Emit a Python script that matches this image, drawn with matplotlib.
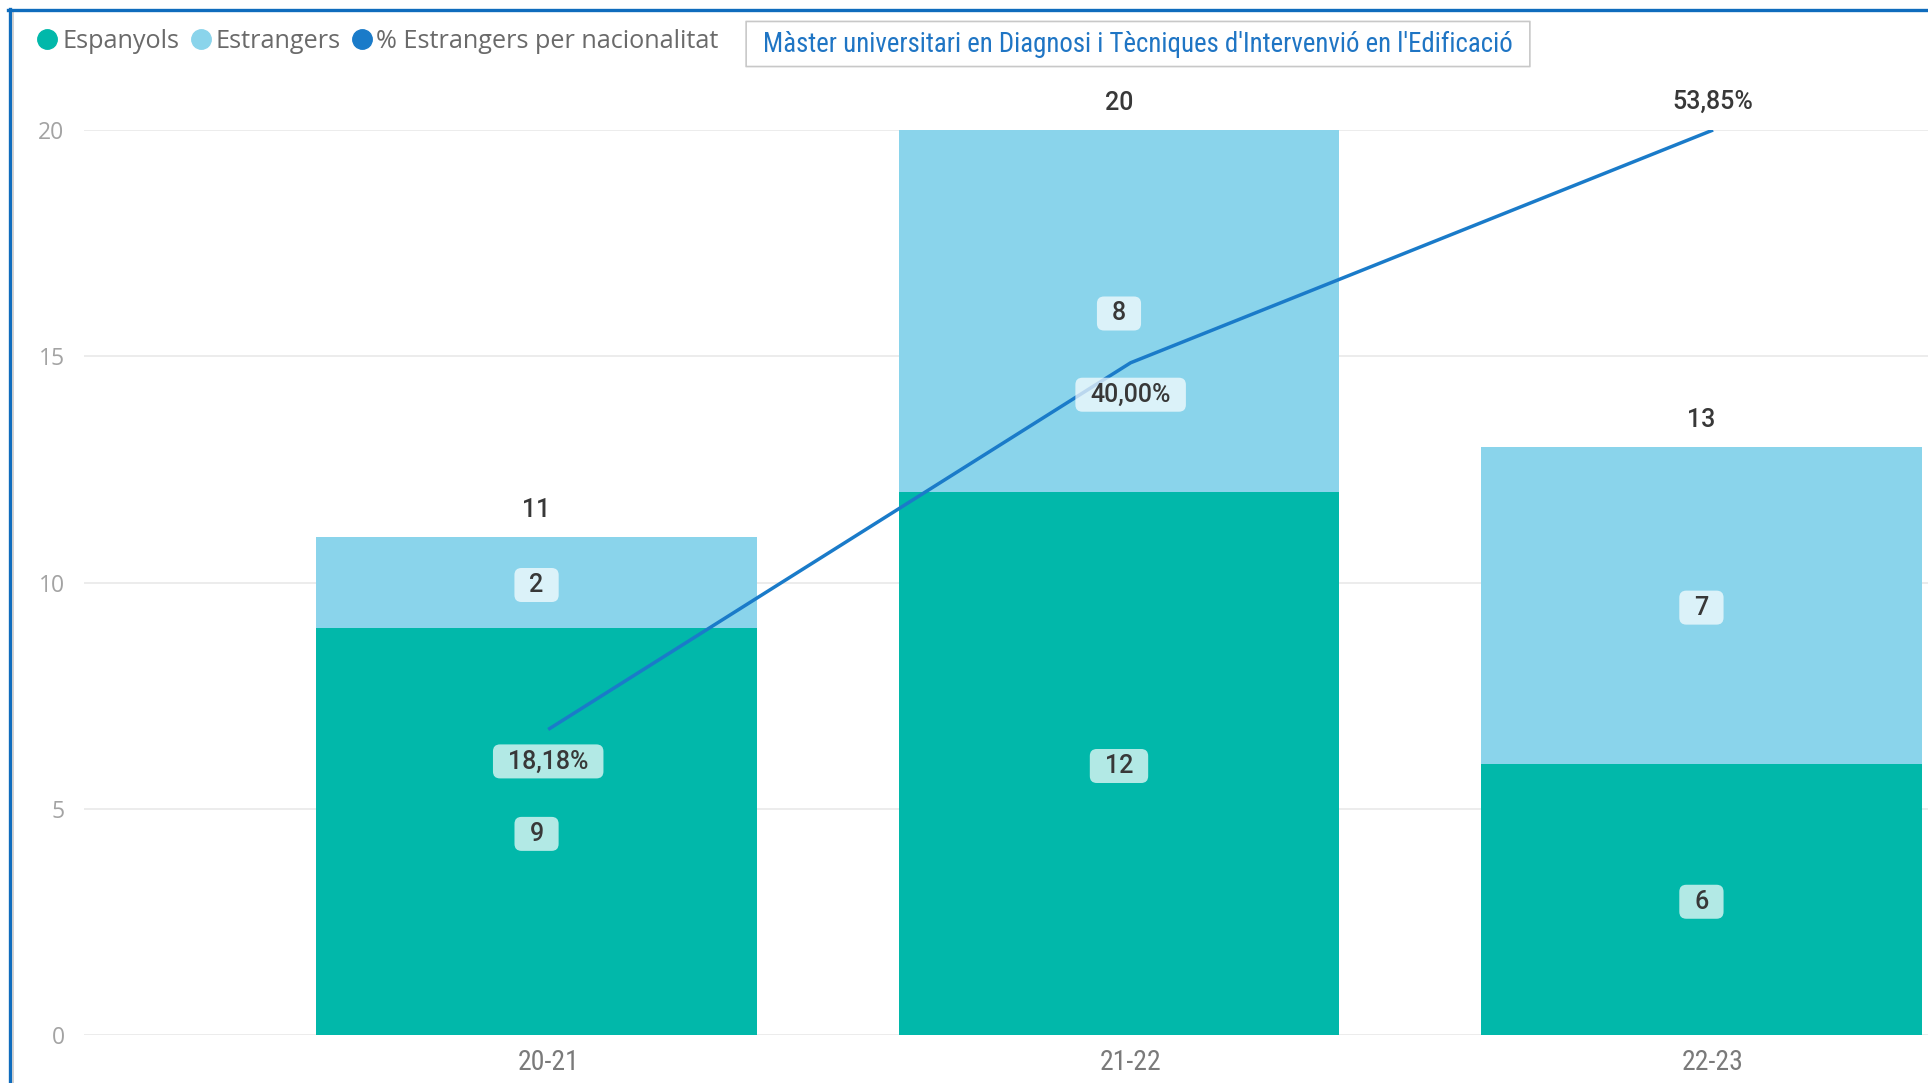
import matplotlib
matplotlib.use("Agg")
import matplotlib.pyplot as plt
from matplotlib.lines import Line2D
from matplotlib.patches import BoxStyle
from matplotlib import font_manager as fm

# ---------------- data ----------------
categories = ["20-21", "21-22", "22-23"]
espanyols = [9, 12, 6]
estrangers = [2, 8, 7]
totals = [11, 20, 13]
pct_estrangers = [18.18, 40.00, 53.85]
pct_labels = ["18,18%", "40,00%", "53,85%"]
title_text = "Màster universitari en Diagnosi i Tècniques d'Intervenvió en l'Edificació"
legend_labels = ["Espanyols", "Estrangers", "% Estrangers per nacionalitat"]
yticks = [0, 5, 10, 15, 20]

# ---------------- style ----------------
C_ESP = "#01B8AA"
C_EST = "#8AD4EB"
C_LINE = "#1A7BC9"
C_FRAME = "#0F6CBD"

avail = {f.name for f in fm.fontManager.ttflist}


def pick(*names):
    for n in names:
        if n in avail:
            return n
    return "DejaVu Sans"


narrow = pick("Liberation Sans Narrow", "Roboto Condensed", "Archivo Narrow", "Liberation Sans")
label_font = pick("Roboto", "DejaVu Sans")
ui_font = pick("Open Sans", "Noto Sans", "DejaVu Sans")

W, H = 1928, 1083
fig = plt.figure(figsize=(W / 100, H / 100), dpi=100)
fig.patch.set_facecolor("white")


def fx(px):
    return px / W


def fy(py):
    return 1 - py / H


ax = fig.add_axes([fx(84), fy(1035), 1 - fx(84), fy(130) - fy(1035)])
ax.set_facecolor("none")
for s in ax.spines.values():
    s.set_visible(False)

x = list(range(len(categories)))
bar_offset = -0.02
bar_w = 0.757
xb = [xi + bar_offset for xi in x]

ax.bar(xb, espanyols, width=bar_w, color=C_ESP, zorder=2)
ax.bar(xb, estrangers, width=bar_w, bottom=espanyols, color=C_EST, zorder=2)

ax.set_xlim(-0.797, 2.369)
ax.set_ylim(0, max(totals))
ax.set_yticks(yticks)
ax.grid(axis="y", color="#ebebeb", linewidth=1.3, zorder=0)
ax.set_axisbelow(True)
ax.tick_params(axis="y", length=0, pad=14, labelsize=16.5, labelcolor="#a3a3a3")
ax.tick_params(axis="x", length=0, pad=10, labelsize=20, labelcolor="#7a7a7a")
ax.set_xticks(x)
ax.set_xticklabels(categories, fontfamily=narrow)
for t in ax.get_yticklabels():
    t.set_fontfamily(ui_font)


def make_box(padx, pady, r):
    def box(x0, y0, width, height, mutation_size):
        base = BoxStyle.Round(pad=0, rounding_size=r / mutation_size)
        return base(x0 - padx, y0 - pady, width + 2 * padx, height + 2 * pady, mutation_size)
    return box


box_kw = dict(boxstyle=make_box(15, 5, 7), facecolor="white", alpha=0.7, edgecolor="none")
lab_kw = dict(fontsize=18, color="#383838", family=label_font, fontweight="medium",
              ha="center", va="center", zorder=6)

# segment labels
for xi, e, s in zip(xb, espanyols, estrangers):
    ax.annotate(str(e), (xi, e / 2), xytext=(0, -1.8), textcoords="offset points",
                bbox=box_kw, **lab_kw)
    ax.annotate(str(s), (xi, e + s / 2), xytext=(0, -1.8), textcoords="offset points",
                bbox=box_kw, **lab_kw)

# total labels
for xi, t in zip(xb, totals):
    ax.annotate(str(t), (xi, t), xytext=(0, 19.5), textcoords="offset points",
                annotation_clip=False, **lab_kw)

# percentage line on secondary axis
ax2 = ax.twinx()
for s in ax2.spines.values():
    s.set_visible(False)
ax2.set_ylim(0, max(pct_estrangers))
ax2.set_yticks([])
ax2.plot(x, pct_estrangers, color=C_LINE, linewidth=2.5, zorder=3, solid_capstyle="butt")
for i, (xi, p, lab) in enumerate(zip(x, pct_estrangers, pct_labels)):
    last = i == len(x) - 1
    off = 20.5 if last else -23
    ax2.annotate(lab, (xi, p), xytext=(0, off), textcoords="offset points",
                 annotation_clip=False,
                 bbox=None if last else box_kw, **lab_kw)

# legend
handles = [Line2D([], [], linestyle="none", marker="o", markersize=14, color=c)
           for c in (C_ESP, C_EST, C_LINE)]
leg = fig.legend(handles, legend_labels, loc="center left",
                 bbox_to_anchor=(fx(38), fy(41)), ncol=3, frameon=False,
                 handlelength=0.75, handletextpad=0.2, columnspacing=0.48,
                 borderpad=0, borderaxespad=0,
                 prop={"family": ui_font, "size": 18.2})
for t in leg.get_texts():
    t.set_color("#6a6a6a")

# title box
fig.text(fx(1138), fy(44), title_text, ha="center", va="center", fontsize=19.4,
         family=narrow, color="#1F75C4",
         bbox=dict(boxstyle=make_box(17, 9, 0.01), facecolor="white",
                   edgecolor="#c8c8c8", linewidth=1.2))

# frame decoration (blue border of the visual)
fig.add_artist(Line2D([fx(9.5), fx(9.5)], [fy(9), 0], color=C_FRAME, linewidth=2.4))
fig.add_artist(Line2D([fx(12.5), fx(12.5)], [fy(11), 0], color="#c8c8c8", linewidth=1.2))
fig.add_artist(Line2D([fx(8), 1], [fy(10), fy(10)], color=C_FRAME, linewidth=2.4))

fig.savefig("out.png", dpi=100, facecolor="white")
